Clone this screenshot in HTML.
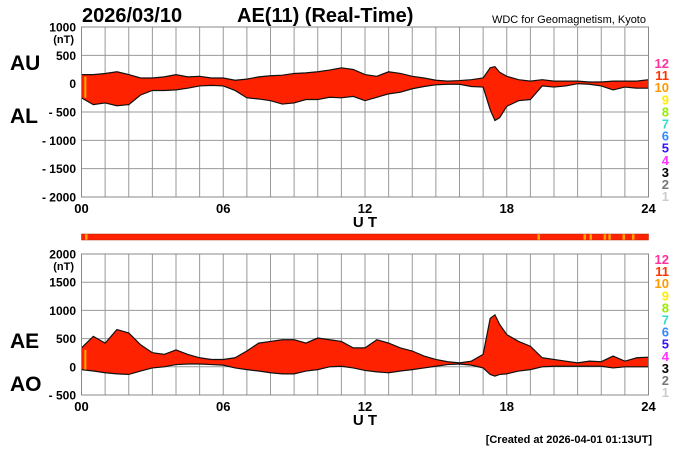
<!DOCTYPE html>
<html><head><meta charset="utf-8"><style>
body{margin:0;background:#fff;width:700px;height:450px;overflow:hidden}
svg{display:block;font-family:"Liberation Sans",sans-serif}
.b{font-weight:bold}
</style></head><body>
<svg id="c" width="700" height="450">
<text x="82" y="22" class="b" font-size="20">2026/03/10</text>
<text x="237" y="22" class="b" font-size="20">AE(11) (Real-Time)</text>
<text x="646" y="23" font-size="11" text-anchor="end">WDC for Geomagnetism, Kyoto</text>
<text x="10" y="70" class="b" font-size="21">AU</text>
<text x="10" y="123" class="b" font-size="21">AL</text>
<text x="10" y="348" class="b" font-size="21">AE</text>
<text x="10" y="391" class="b" font-size="21">AO</text>
<text x="652" y="443" font-size="11" font-weight="bold" text-anchor="end">[Created at 2026-04-01 01:13UT]</text>
<g id="g"></g>
</svg>
<script>
const times=[0,0.5,1,1.5,2,2.5,3,3.5,4,4.5,5,5.5,6,6.5,7,7.5,8,8.5,9,9.5,10,10.5,11,11.5,12,12.5,13,13.5,14,14.5,15,15.5,16,16.5,17,17.3,17.5,17.7,18,18.5,19,19.5,20,20.5,21,21.5,22,22.5,23,23.5,24];
const auValues=[160,160,180,210,160,100,100,120,160,120,130,100,100,60,80,120,140,150,180,190,210,240,280,250,160,130,210,180,130,100,60,45,55,70,100,280,300,200,130,70,45,70,45,45,45,30,30,45,45,45,70];
const alValues=[-250,-370,-340,-390,-370,-200,-120,-120,-110,-80,-40,-30,-40,-120,-250,-270,-300,-360,-340,-280,-280,-240,-250,-225,-300,-240,-180,-150,-90,-50,-20,-10,-10,-50,-60,-460,-650,-600,-400,-300,-280,-40,-60,-40,0,-10,-40,-110,-60,-80,-80];
const aeValues=[335,540,420,660,600,390,250,220,300,220,160,130,130,160,280,420,450,480,480,420,510,480,450,335,335,480,420,335,280,190,130,90,70,100,220,860,920,750,570,450,365,160,130,100,70,100,90,190,100,160,170];
const aoValues=[-50,-75,-105,-125,-135,-75,-20,0,40,50,50,40,30,-20,-50,-75,-105,-125,-125,-75,-50,0,10,-20,-65,-90,-105,-75,-50,-20,10,40,50,30,-20,-135,-165,-135,-125,-75,-50,0,10,10,10,10,10,-20,0,0,0];
const topTicks=[1000,500,0,-500,-1000,-1500,-2000];
const botTicks=[2000,1500,1000,500,0,-500];
const hourLabels=["00","06","12","18","24"];
const stationNums=["12","11","10","9","8","7","6","5","4","3","2","1"];
const stationColors=["#ff3399","#ff3300","#ff9900","#ffee00","#99ee00","#33ddcc","#3388ff","#3311ff","#ff33ff","#000","#777","#ccc"];
const flagHours=[0.15,19.3,21.25,21.5,22.1,22.3,22.9,23.3];

const NS="http://www.w3.org/2000/svg";
const g=document.getElementById('g');
const X0=81.5,X1=648.5;
const xs=h=>X0+(X1-X0)*h/24;
function mk(t,a){const e=document.createElementNS(NS,t);for(const k in a)e.setAttribute(k,a[k]);g.appendChild(e);return e;}
function panel(name,top,bot,vmax,vmin,ticks,up,lo,yLab,upName,loName){
  const ys=v=>top+(vmax-v)/(vmax-vmin)*(bot-top);
  for(let h=1;h<24;h++){const l=mk('line',{x1:xs(h),x2:xs(h),y1:top,y2:bot,stroke:'#999','stroke-width':1});
    
    }
  ticks.forEach((v,i)=>{const y=ys(v);
    if(i>0&&i<ticks.length-1){const l=mk('line',{x1:X0,x2:X1,y1:y,y2:y,stroke:'#999','stroke-width':1});
      
      }
    const t=mk('text',{x:76,y:y+4.5,'font-size':12,'font-weight':'bold','text-anchor':'end'});
    t.textContent=(v<0?'- '+(-v):v);
    
    
  });
  const u=mk('text',{x:74,y:ys(ticks[0])+16,'font-size':11,'font-weight':'bold','text-anchor':'end'});u.textContent='(nT)';
  
  
  let d='M'+times.map((t,i)=>xs(t)+','+ys(up[i])).join('L');
  for(let i=times.length-1;i>=0;i--)d+='L'+xs(times[i])+','+ys(lo[i]);
  const a=mk('path',{d:d+'Z',fill:'#ff2200',stroke:'none'});
  
  
  const p1=mk('path',{d:'M'+times.map((t,i)=>xs(t)+','+ys(up[i])).join('L'),fill:'none',stroke:'#111','stroke-width':1.2});
  
  
  const p2=mk('path',{d:'M'+times.map((t,i)=>xs(t)+','+ys(lo[i])).join('L'),fill:'none',stroke:'#111','stroke-width':1.2});
  
  
  const f=mk('rect',{x:xs(0.12),y:ys(up[0])+2,width:2,height:ys(lo[0])-ys(up[0])-2,fill:'#ffaa00'});
  
  
  const fr=mk('rect',{x:X0,y:top,width:X1-X0,height:bot-top,fill:'none',stroke:'#888','stroke-width':1});
  
  
  hourLabels.forEach((s,i)=>{const t=mk('text',{x:xs(i*6),y:bot+16,'font-size':13,'font-weight':'bold','text-anchor':'middle'});t.textContent=s;
    
    });
  const ut=mk('text',{x:xs(12),y:bot+30,'font-size':15,'font-weight':'bold','text-anchor':'middle'});ut.textContent='U T';
  
  
  stationNums.forEach((s,i)=>{const t=mk('text',{x:669,y:yLab+i*12.1,'font-size':13,'font-weight':'bold','text-anchor':'end',fill:stationColors[i]});t.textContent=s;
    
    });
}
panel('au-al-panel',27,197,1000,-2000,topTicks,auValues,alValues,68,'au','al');
const bar=mk('rect',{x:X0,y:234,width:X1-X0,height:6,fill:'#ff2200',stroke:'#aa2200','stroke-width':0.5});


flagHours.forEach(h=>{const r=mk('rect',{x:xs(h),y:234.3,width:2.5,height:5.4,fill:'#ffa500'});
  
  });
panel('ae-ao-panel',254,395,2000,-500,botTicks,aeValues,aoValues,264,'ae','ao');
</script>
</body></html>
